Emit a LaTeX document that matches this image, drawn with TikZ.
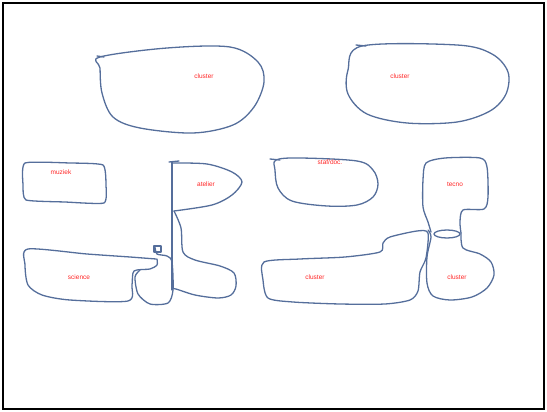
\documentclass[tikz,border=0pt]{standalone}
\usepackage{fontspec}
\setmainfont{Liberation Sans}
\begin{document}
\begin{tikzpicture}[x=1pt,y=-1pt,
  blob/.style={draw=blobc, line width=1.3pt, line join=round, line cap=round},
  lbl/.style={text=red!85!white, font=\fontsize{6.5}{7}\selectfont, inner sep=0pt}]
\definecolor{blobc}{RGB}{85,110,155}
\useasboundingbox (0,0) rectangle (547,412);
\draw[line width=1.6pt] (3,3) rectangle (544,409);
% top-left cluster
\draw[blob] plot[smooth cycle, tension=0.55] coordinates {(100,57) (167,48) (230,47) (258,62) (264,82) (254,107) (233,125) (193,133) (140,128) (113,117) (102,93) (100,68)};
\draw[blob] (97,56) -- (104,57);
\node[lbl] (c1) at (204,76) {cluster};
% top-right cluster
\draw[blob] plot[smooth cycle, tension=0.55] coordinates {(362,46) (457,45) (492,54) (508,72) (506,94) (490,111) (457,122) (407,123) (367,114) (348,94) (348,70)};
\draw[blob] (356,45) -- (366,46);
\node[lbl] (c2) at (400,76) {cluster};
% muziek
\draw[blob] plot[smooth cycle, tension=0.3] coordinates {(25,163) (70,163) (103,165) (106,185) (104,203) (65,202) (26,200) (23,185)};
\node[lbl] (m) at (61,172) {muziek};
% atelier top
\draw[blob] plot[smooth, tension=0.5] coordinates {(172,163) (207,164) (232,172) (242,182) (232,195) (212,205) (174,211)};
\draw[blob] (172,162) -- (172,290);
\draw[blob] (169,162) -- (179,161);
\node[lbl] (at) at (206,184) {atelier};
% atelier lower part
\draw[blob] plot[smooth, tension=0.5] coordinates {(174,211) (181,228) (183,252) (195,260) (220,266) (234,273) (236,286) (231,295) (218,298) (195,295) (176,289) (172,289)};
% science
\draw[blob] plot[smooth, tension=0.45] coordinates {(156,259) (130,257) (87,254) (28,249) (25,265) (28,285) (42,295) (70,300) (128,301) (132,285) (134,271) (150,269) (157,265) (157,259)};
% small blob between science and atelier
\draw[blob] plot[smooth, tension=0.45] coordinates {(155,247) (157,254) (167,256) (172,262) (173,290) (168,303) (150,304) (138,294) (135,277) (140,270)};
\draw[blob] (154,246) rectangle (161,252);
\node[lbl] (sc) at (79,277) {science};
% staf/doc
\draw[blob] plot[smooth cycle, tension=0.55] coordinates {(276,160) (300,158) (357,161) (373,170) (378,184) (373,197) (357,205) (327,206) (292,201) (278,188) (275,170)};
\draw[blob] (270,159) -- (280,160);
\node[lbl] (sd) at (330,162) {staf/doc.};
% tecno
\draw[blob] plot[smooth, tension=0.45] coordinates {(431,232) (428,222) (423,207) (423,180) (426,163) (445,158) (480,158) (487,167) (488,197) (484,209) (463,210) (460,222) (461,233)};
\node[lbl] (te) at (455,184) {tecno};
% small ellipse
\draw[blob] (447,234) ellipse (13pt and 4pt);
% right lower cluster
\draw[blob] plot[smooth, tension=0.5] coordinates {(461,233) (463,248) (480,254) (491,262) (494,275) (487,288) (472,297) (450,300) (433,296) (427,283) (427,257) (431,237) (428,230)};
\node[lbl] (c4) at (457,277) {cluster};
% big lower cluster
\draw[blob] plot[smooth cycle, tension=0.45] coordinates {(264,262) (300,259) (345,257) (380,252) (383,243) (390,237) (417,231) (428,233) (426,258) (420,272) (418,291) (410,300) (385,304) (340,304) (293,302) (268,298) (263,280)};
\node[lbl] (c3) at (315,277) {cluster};
\end{tikzpicture}
\end{document}
